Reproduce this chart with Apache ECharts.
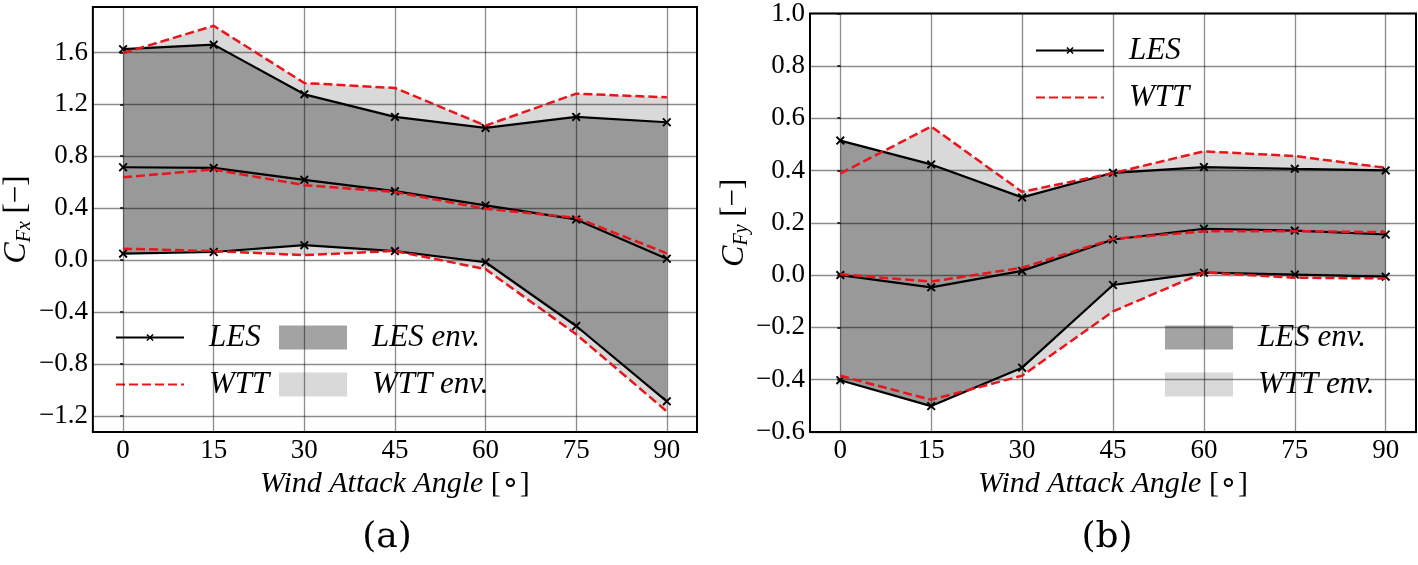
<!DOCTYPE html>
<html><head><meta charset="utf-8">
<script src="https://cdn.jsdelivr.net/npm/echarts@6/dist/echarts.min.js"></script>
<style>html,body{margin:0;padding:0;background:#fff}#c{width:1418px;height:565px}</style>
</head><body><div id="c"></div>
<script>
// ---------- data ----------
const angles = [0, 15, 30, 45, 60, 75, 90];
// panel (a): C_Fx
const fxLesMax  = [1.625, 1.66, 1.277, 1.103, 1.018, 1.103, 1.062];
const fxLesMean = [0.715, 0.71, 0.618, 0.531, 0.421, 0.313, 0.01];
const fxLesMin  = [0.049, 0.062, 0.115, 0.069, -0.017, -0.508, -1.089];
const fxWttMax  = [1.595, 1.805, 1.364, 1.326, 1.036, 1.282, 1.254];
const fxWttMean = [0.638, 0.698, 0.577, 0.525, 0.395, 0.326, 0.052];
const fxWttMin  = [0.088, 0.069, 0.038, 0.07, -0.07, -0.572, -1.166];
// panel (b): C_Fy
const fyLesMax  = [0.514, 0.423, 0.297, 0.391, 0.413, 0.406, 0.40];
const fyLesMean = [0.0, -0.047, 0.016, 0.136, 0.177, 0.17, 0.155];
const fyLesMin  = [-0.402, -0.501, -0.354, -0.038, 0.009, 0.002, -0.006];
const fyWttMax  = [0.388, 0.568, 0.318, 0.39, 0.473, 0.455, 0.41];
const fyWttMean = [0.003, -0.025, 0.028, 0.138, 0.167, 0.168, 0.164];
const fyWttMin  = [-0.385, -0.477, -0.385, -0.139, 0.01, -0.01, -0.013];
// ticks
const xTicks  = [0, 15, 30, 45, 60, 75, 90];
const fxTicks = [-1.2, -0.8, -0.4, 0.0, 0.4, 0.8, 1.2, 1.6];
const fyTicks = [-0.6, -0.4, -0.2, 0.0, 0.2, 0.4, 0.6, 0.8, 1.0];

// ---------- styles ----------
const RED = '#e8161c';
const SERIF = 'Liberation Serif';
const XSYM = 'path://M0,1.5L1.5,0L5,3.5L8.5,0L10,1.5L6.5,5L10,8.5L8.5,10L5,6.5L1.5,10L0,8.5L3.5,5Z';
const pts = ys => angles.map((a, i) => [a, ys[i]]);
const fmt = v => (Math.abs(v) < 1e-9 ? '0.0' : v.toFixed(1)).replace('-', '\u2212');

function envSeries(idx, name, lo, hi, color, z) {
  const data = angles.map((a, i) => [a, lo[i], hi[i]]);
  return { type: 'custom', name: name, xAxisIndex: idx, yAxisIndex: idx, data: data, z: z,
    silent: true, clip: true, color: color, itemStyle: { color: color },
    encode: { x: 0, y: [1, 2] },
    renderItem: function (params, api) {
      if (params.dataIndex !== 0) return null;
      const top = [], bot = [];
      for (let i = 0; i < data.length; i++) {
        top.push(api.coord([data[i][0], data[i][2]]));
        bot.unshift(api.coord([data[i][0], data[i][1]]));
      }
      return { type: 'polygon', shape: { points: top.concat(bot) }, style: { fill: color, stroke: null } };
    }
  };
}
function lesLine(idx, ys) {
  return { type: 'line', name: 'LES', xAxisIndex: idx, yAxisIndex: idx, data: pts(ys),
    symbol: XSYM, symbolSize: 9, showAllSymbol: true, itemStyle: { color: '#000' },
    lineStyle: { color: '#000', width: 2.2 }, z: 10, silent: true };
}
function wttLine(idx, ys) {
  return { type: 'line', name: 'WTT', xAxisIndex: idx, yAxisIndex: idx, data: pts(ys),
    symbol: 'none', itemStyle: { color: RED },
    lineStyle: { color: RED, width: 2.5, type: [9, 4] }, z: 11, silent: true };
}

const tickFont = { fontFamily: SERIF, fontSize: 27, color: '#000' };
const gridLine = { show: true, lineStyle: { color: 'rgba(0,0,0,0.45)', width: 1.3 } };
const xName = '{i|Wind Attack Angle}{n| [\u2218]}';
const xNameStyle = { rich: {
  i: { fontFamily: SERIF, fontStyle: 'italic', fontSize: 30, lineHeight: 34, color: '#000' },
  n: { fontFamily: SERIF, fontSize: 30, lineHeight: 34, color: '#000' } } };
function yNameStyle() {
  return { rich: {
    c: { fontFamily: SERIF, fontStyle: 'italic', fontSize: 32, lineHeight: 36, color: '#000' },
    s: { fontFamily: SERIF, fontStyle: 'italic', fontSize: 20, lineHeight: 16, verticalAlign: 'bottom', color: '#000' },
    b: { fontFamily: SERIF, fontSize: 31, lineHeight: 36, color: '#000' } } };
}
function xAxisDef(i) {
  return { gridIndex: i, type: 'value', min: -5, max: 95, z: 5,
    axisLine: { show: false }, axisTick: { show: false, customValues: xTicks },
    axisLabel: Object.assign({ customValues: xTicks, margin: 5 }, tickFont),
    splitLine: gridLine, name: xName, nameLocation: 'middle', nameGap: 25, nameTextStyle: xNameStyle };
}
const legFont = { fontFamily: SERIF, fontStyle: 'italic', fontSize: 31, color: '#000', lineHeight: 30, padding: [0, 0, 0, 20] };
function lineLegend(left, top) {
  return { data: ['LES', { name: 'WTT', itemStyle: { opacity: 0 } }], orient: 'vertical', left: left, top: top, padding: 0,
    itemWidth: 68, itemHeight: 9, itemGap: 16, textStyle: legFont, selectedMode: false };
}
function envLegend(left, top) {
  return { data: [ { name: 'LES env.', icon: 'rect', itemStyle: { color: '#a3a3a3', borderWidth: 0 } },
                   { name: 'WTT env.', icon: 'rect', itemStyle: { color: '#d9d9d9', borderWidth: 0 } } ],
    orient: 'vertical', left: left, top: top, padding: 0,
    itemWidth: 68, itemHeight: 24, itemGap: 16, textStyle: legFont, selectedMode: false };
}

const option = {
  animation: false,
  backgroundColor: '#fff',
  textStyle: { fontFamily: SERIF },
  grid: [
    { left: 86, top: 7, width: 611, height: 425, show: true, borderColor: '#000', borderWidth: 2, backgroundColor: 'transparent' },
    { left: 810, top: 9, width: 606, height: 423, show: true, borderColor: '#000', borderWidth: 2, backgroundColor: 'transparent' }
  ],
  xAxis: [xAxisDef(0), xAxisDef(1)],
  yAxis: [
    { gridIndex: 0, type: 'value', min: -1.325, max: 1.95, z: 5,
      axisLine: { show: false },
      axisTick: { show: true, inside: false, length: 3, customValues: fxTicks, lineStyle: { color: '#000', width: 1.5 } },
      axisLabel: Object.assign({ customValues: fxTicks, margin: 5, formatter: fmt }, tickFont),
      splitLine: gridLine,
      name: '{c|C}{s|Fx}{b| [\u2212]}', nameLocation: 'middle', nameRotate: 90, nameGap: 56, nameTextStyle: yNameStyle() },
    { gridIndex: 1, type: 'value', min: -0.6, max: 1.0, interval: 0.2, z: 5,
      axisLine: { show: false },
      axisTick: { show: true, inside: false, length: 3, lineStyle: { color: '#000', width: 1.5 } },
      axisLabel: Object.assign({ margin: 5, formatter: fmt }, tickFont),
      splitLine: gridLine,
      name: '{c|C}{s|Fy}{b| [\u2212]}', nameLocation: 'middle', nameRotate: 90, nameGap: 56, nameTextStyle: yNameStyle() }
  ],
  legend: [ lineLegend(115, 322), envLegend(279, 322), lineLegend(1035, 35), envLegend(1165, 322) ],
  series: [
    envSeries(0, 'WTT env.', fxWttMin, fxWttMax, '#d9d9d9', 1),
    envSeries(0, 'LES env.', fxLesMin, fxLesMax, '#999999', 2),
    envSeries(1, 'WTT env.', fyWttMin, fyWttMax, '#d9d9d9', 1),
    envSeries(1, 'LES env.', fyLesMin, fyLesMax, '#999999', 2),
    lesLine(0, fxLesMax), lesLine(0, fxLesMean), lesLine(0, fxLesMin),
    wttLine(0, fxWttMax), wttLine(0, fxWttMean), wttLine(0, fxWttMin),
    lesLine(1, fyLesMax), lesLine(1, fyLesMean), lesLine(1, fyLesMin),
    wttLine(1, fyWttMax), wttLine(1, fyWttMean), wttLine(1, fyWttMin)
  ],
  graphic: [
    { type: 'text', style: { text: '(a)', x: 387, y: 538, align: 'center', verticalAlign: 'middle',
      fontFamily: 'DejaVu Serif', fontSize: 36, fill: '#000' } },
    { type: 'text', style: { text: '(b)', x: 1107, y: 538, align: 'center', verticalAlign: 'middle',
      fontFamily: 'DejaVu Serif', fontSize: 36, fill: '#000' } }
  ]
};
const chart = echarts.init(document.getElementById('c'), null, { renderer: 'canvas' });
chart.setOption(option);
</script>
</body></html>
